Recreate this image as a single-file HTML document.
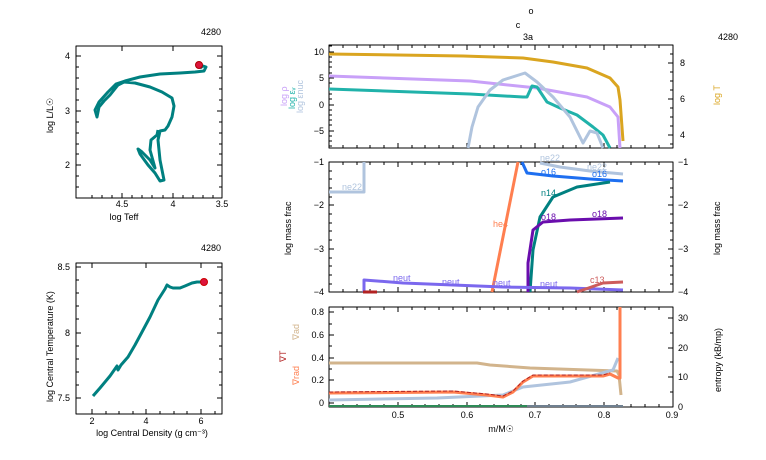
<!DOCTYPE html>
<html><head><meta charset="utf-8"><style>
body{margin:0;background:#fff;}
svg{display:block;font-family:"Liberation Sans",sans-serif;}
text{font-size:9px;fill:#000;}
</style></head><body>
<svg width="766" height="460" viewBox="0 0 766 460" xmlns="http://www.w3.org/2000/svg">
<g fill="none" stroke-linejoin="round" stroke-linecap="butt">

<rect x="76" y="46" width="146" height="152" stroke="#000" stroke-width="1"/>
<g stroke="#000" stroke-width="1">
<path d="M122 198v-5M173 198v-5M122 46v5M173 46v5M76 56h5M76 111h5M76 165h5M222 56h-5M222 111h-5M222 165h-5"/>
<path d="M92 198v-3M102 198v-3M112 198v-3M132 198v-3M142 198v-3M152 198v-3M163 198v-3M183 198v-3M193 198v-3M203 198v-3M213 198v-3"/>
<path d="M76 67h3M76 78h3M76 89h3M76 100h3M76 122h3M76 133h3M76 144h3M76 154h3M76 176h3M76 187h3M222 67h-3M222 78h-3M222 89h-3M222 100h-3M222 122h-3M222 133h-3M222 144h-3M222 154h-3M222 176h-3M222 187h-3"/>
</g>
<polyline stroke="#008080" stroke-width="3" points="200,68 203,66 206,67 204,71 195,72 180,73 160,74 140,77 125,81 116,84 108,92 99,102 95,110 97,117 99,107 104,101 110,95 118,85 124,82 135,83 150,87 162,92 172,98 174,106 172,117 168,126 165,130 160,131 158,140 160,160 163,175 164,180 160,181 155,173 148,165 140,154 138,149 142,152 150,160 155,168 150,150 151,140 157,135 158,130"/>
<circle cx="199" cy="65" r="3.5" fill="#dc143c" stroke="#a00" stroke-width="1"/>

<rect x="76" y="263" width="146" height="151" stroke="#000" stroke-width="1"/>
<g stroke="#000" stroke-width="1">
<path d="M92 414v-5M146 414v-5M201 414v-5M92 263v5M146 263v5M201 263v5M76 267h5M76 333h5M76 398h5M222 267h-5M222 333h-5M222 398h-5"/>
<path d="M76 280h3M76 293h3M76 306h3M76 319h3M76 346h3M76 359h3M76 372h3M76 385h3M222 280h-3M222 293h-3M222 306h-3M222 319h-3M222 346h-3M222 359h-3M222 372h-3M222 385h-3"/>
<path d="M106 414v-3M119 414v-3M133 414v-3M160 414v-3M174 414v-3M187 414v-3M215 414v-3"/>
</g>
<polyline stroke="#008080" stroke-width="3" points="93,396 100,388 110,376 117,366 118,370 121,365 128,357 135,345 142,332 150,317 158,300 165,289 167,285 170,287 173,288 180,288 185,286 192,283 197,282 202,282"/>
<circle cx="204" cy="282" r="3.5" fill="#dc143c" stroke="#c00" stroke-width="1"/>

<rect x="329" y="45" width="344" height="103" stroke="#000" stroke-width="1"/>
<g stroke="#000" stroke-width="1">
<path d="M329 52h5M329 78h5M329 105h5M329 131h5M673 63h-5M673 99h-5M673 135h-5"/>
<path d="M329 46h3M329 57h3M329 62h3M329 67h3M329 73h3M329 83h3M329 89h3M329 94h3M329 99h3M329 110h3M329 115h3M329 120h3M329 125h3M329 136h3M329 141h3M329 146h3"/>
<path d="M673 54h-3M673 72h-3M673 81h-3M673 90h-3M673 108h-3M673 117h-3M673 126h-3M673 144h-3"/>
<path d="M398 148v-5M467 148v-5M535 148v-5M604 148v-5M398 45v5M467 45v5M535 45v5M604 45v5"/>
<path d="M343 148v-3M357 148v-3M370 148v-3M384 148v-3M412 148v-3M425 148v-3M439 148v-3M453 148v-3M480 148v-3M494 148v-3M508 148v-3M521 148v-3M549 148v-3M563 148v-3M576 148v-3M590 148v-3M617 148v-3M631 148v-3M645 148v-3M659 148v-3"/>
<path d="M343 45v3M357 45v3M370 45v3M384 45v3M412 45v3M425 45v3M439 45v3M453 45v3M480 45v3M494 45v3M508 45v3M521 45v3M549 45v3M563 45v3M576 45v3M590 45v3M617 45v3M631 45v3M645 45v3M659 45v3"/>
</g>
<polyline stroke="#daa520" stroke-width="3" points="329,54 463,56 523,58 553,62 587,68 610,78 618,87 620,100 623,141"/>
<polyline stroke="#c8a0f8" stroke-width="3" points="329,76 470,81 537,88 587,97 610,107 618,117 620,148"/>
<polyline stroke="#20b2aa" stroke-width="3" points="329,89 470,94 523,97 527,97 532,86 537,87 547,102 560,108 577,115 593,127 603,135 610,148"/>
<polyline stroke="#b0c4de" stroke-width="3" points="468,148 472,127 478,107 490,90 503,80 525,73 537,82 553,97 570,117 583,143 590,131 597,133 603,148"/>

<rect x="329" y="162" width="344" height="130" stroke="#000" stroke-width="1"/>
<g stroke="#000" stroke-width="1">
<path d="M329 162h5M329 205h5M329 249h5M329 292h5M673 162h-5M673 205h-5M673 249h-5M673 292h-5"/>
<path d="M329 171h3M329 179h3M329 188h3M329 197h3M329 214h3M329 223h3M329 231h3M329 240h3M329 258h3M329 266h3M329 275h3M329 284h3"/>
<path d="M673 171h-3M673 179h-3M673 188h-3M673 197h-3M673 214h-3M673 223h-3M673 231h-3M673 240h-3M673 258h-3M673 266h-3M673 275h-3M673 284h-3"/>
<path d="M398 292v-5M467 292v-5M535 292v-5M604 292v-5M398 162v5M467 162v5M535 162v5M604 162v5"/>
<path d="M343 292v-3M357 292v-3M370 292v-3M384 292v-3M412 292v-3M425 292v-3M439 292v-3M453 292v-3M480 292v-3M494 292v-3M508 292v-3M521 292v-3M549 292v-3M563 292v-3M576 292v-3M590 292v-3M617 292v-3M631 292v-3M645 292v-3M659 292v-3"/>
<path d="M343 162v3M357 162v3M370 162v3M384 162v3M412 162v3M425 162v3M439 162v3M453 162v3M480 162v3M494 162v3M508 162v3M521 162v3M549 162v3M563 162v3M576 162v3M590 162v3M617 162v3M631 162v3M645 162v3M659 162v3"/>
</g>
<polyline stroke="#b0c4de" stroke-width="3" points="329,192 364,192 364,162"/>
<polyline stroke="#b0c4de" stroke-width="3" points="540,163 560,167 590,171 623,174"/>
<polyline stroke="#ff7f50" stroke-width="3" points="492,292 518,162"/>
<polyline stroke="#1e6ff0" stroke-width="3" points="522,162 527,173 553,176 590,179 623,181"/>
<polyline stroke="#008080" stroke-width="3" points="530,292 533,250 540,217 553,197 577,187 610,182"/>
<polyline stroke="#6a0dad" stroke-width="3" points="528,292 528,263 533,230 543,222 570,220 623,218"/>
<polyline stroke="#7b68ee" stroke-width="3" points="364,292 364,280 403,283 503,287 570,288 623,290"/>
<polyline stroke="#cd5c5c" stroke-width="3" points="577,292 603,283 623,282"/>
<polyline stroke="#b22222" stroke-width="3" points="363,292 377,292"/>

<rect x="329" y="307" width="344" height="100" stroke="#000" stroke-width="1"/>
<g stroke="#000" stroke-width="1">
<path d="M329 312h5M329 335h5M329 358h5M329 380h5M329 403h5M673 318h-5M673 348h-5M673 377h-5M673 407h-5"/>
<path d="M329 324h3M329 346h3M329 369h3M329 392h3M673 333h-3M673 362h-3M673 392h-3"/>
<path d="M398 407v-5M467 407v-5M535 407v-5M604 407v-5M398 307v5M467 307v5M535 307v5M604 307v5"/>
<path d="M343 407v-3M357 407v-3M370 407v-3M384 407v-3M412 407v-3M425 407v-3M439 407v-3M453 407v-3M480 407v-3M494 407v-3M508 407v-3M521 407v-3M549 407v-3M563 407v-3M576 407v-3M590 407v-3M617 407v-3M631 407v-3M645 407v-3M659 407v-3"/>
<path d="M343 307v3M357 307v3M370 307v3M384 307v3M412 307v3M425 307v3M439 307v3M453 307v3M480 307v3M494 307v3M508 307v3M521 307v3M549 307v3M563 307v3M576 307v3M590 307v3M617 307v3M631 307v3M645 307v3M659 307v3"/>
</g>
<polyline stroke="#d2b48c" stroke-width="3" points="329,363 477,363 490,365 530,368 617,371 619,375 621,395"/>
<polyline stroke="#b0c4de" stroke-width="3" points="329,400 437,398 503,395 523,387 570,382 613,370 618,358"/>
<polyline stroke="#ff7f50" stroke-width="3" points="329,393 453,392 487,395 503,397 513,392 523,382 533,376 603,376 610,374 618,378 620,378 620,307"/>
<polyline stroke="#b22222" stroke-width="1" stroke-dasharray="4,2" points="329,392 453,391 487,394 503,396 513,391 523,381 533,375 603,375 610,373"/>
<polyline stroke="#2e8b57" stroke-width="2" points="329,406 527,406"/>
<polyline stroke="#708090" stroke-width="2" points="527,406 623,406"/>
</g>

<g text-anchor="middle">
<text x="124" y="220" font-size="7">log Teff</text>
<text x="122" y="207" font-size="7">4.5</text>
<text x="173" y="207" font-size="7">4</text>
<text x="222" y="207" font-size="7">3.5</text>
<text x="211" y="35" font-size="7">4280</text>
<text x="211" y="251" font-size="7">4280</text>
<text x="92" y="424" font-size="7">2</text>
<text x="146" y="424" font-size="7">4</text>
<text x="201" y="424" font-size="7">6</text>
<text x="152" y="436" font-size="7">log Central Density (g cm⁻³)</text>
<text x="398" y="418">0.5</text><text x="467" y="418">0.6</text><text x="535" y="418">0.7</text><text x="604" y="418">0.8</text><text x="672" y="418">0.9</text>
<text x="501" y="432">m/M☉</text>
<text x="728" y="40">4280</text>
<text x="531" y="14" font-size="8">o</text>
<text x="518" y="28" font-size="8">c</text>
<text x="528" y="40">3a</text>
</g>
<g text-anchor="end" font-size="7">
<text x="70" y="59" font-size="7">4</text><text x="70" y="114" font-size="7">3</text><text x="70" y="168" font-size="7">2</text>
<text x="70" y="270" font-size="7">8.5</text><text x="70" y="336" font-size="7">8</text><text x="70" y="401" font-size="7">7.5</text>
<text x="324" y="55">10</text><text x="324" y="81">5</text><text x="324" y="108">0</text><text x="324" y="134">−5</text>
<text x="324" y="165">−1</text><text x="324" y="208">−2</text><text x="324" y="252">−3</text><text x="324" y="295">−4</text>
<text x="324" y="315">0.8</text><text x="324" y="338">0.6</text><text x="324" y="361">0.4</text><text x="324" y="383">0.2</text><text x="324" y="406">0</text>
</g>
<g>
<text x="680" y="66">8</text><text x="680" y="102">6</text><text x="680" y="138">4</text>
<text x="678" y="165">−1</text><text x="678" y="208">−2</text><text x="678" y="252">−3</text><text x="678" y="295">−4</text>
<text x="678" y="321">30</text><text x="678" y="351">20</text><text x="678" y="380">10</text><text x="678" y="410">0</text>
</g>
<g font-size="8">
<text transform="translate(53,133) rotate(-90)" font-size="7">log L/L☉</text>
<text transform="translate(53,402) rotate(-90)" font-size="7">log Central Temperature (K)</text>
<text transform="translate(287,106) rotate(-90)" style="fill:#c8a0f8">log ρ</text>
<text transform="translate(295,109) rotate(-90)" style="fill:#20b2aa">log εᵥ</text>
<text transform="translate(303,113) rotate(-90)" style="fill:#b0c4de">log εnuc</text>
<text transform="translate(720,105) rotate(-90)" style="fill:#daa520">log T</text>
<text transform="translate(291,255) rotate(-90)">log mass frac</text>
<text transform="translate(720,255) rotate(-90)">log mass frac</text>
<text transform="translate(721,392) rotate(-90)">entropy (kB/mp)</text>
<text transform="translate(299,340) rotate(-90)" style="fill:#d2b48c">∇ad</text>
<text transform="translate(286,362) rotate(-90)" style="fill:#b22222">∇T</text>
<text transform="translate(299,385) rotate(-90)" style="fill:#ff7f50">∇rad</text>
<text x="342" y="190" style="fill:#b0c4de">ne22</text>
<text x="540" y="161" style="fill:#b0c4de">ne22</text>
<text x="587" y="170" style="fill:#b0c4de">ne22</text>
<text x="541" y="175" style="fill:#1e6ff0">o16</text>
<text x="592" y="177" style="fill:#1e6ff0">o16</text>
<text x="541" y="196" style="fill:#008080">n14</text>
<text x="493" y="227" style="fill:#ff7f50">he4</text>
<text x="541" y="220" style="fill:#6a0dad">o18</text>
<text x="592" y="217" style="fill:#6a0dad">o18</text>
<text x="393" y="281" style="fill:#7b68ee">neut</text>
<text x="442" y="285" style="fill:#7b68ee">neut</text>
<text x="493" y="286" style="fill:#7b68ee">neut</text>
<text x="540" y="287" style="fill:#7b68ee">neut</text>
<text x="590" y="283" style="fill:#cd5c5c">c13</text>
</g>
</svg>
</body></html>
